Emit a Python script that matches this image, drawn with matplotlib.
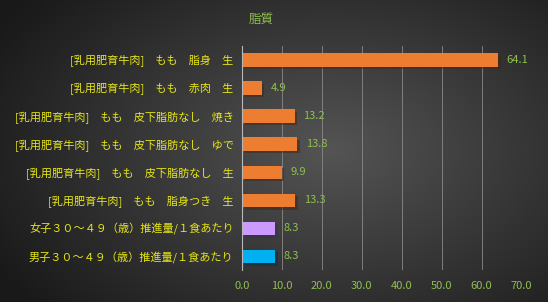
import numpy as np
import matplotlib
matplotlib.use("Agg")
import matplotlib.pyplot as plt
import matplotlib.patheffects as pe

plt.rcParams['font.family'] = ['Noto Sans CJK JP', 'DejaVu Sans']

labels = [
    "[乳用肥育牛肉]　もも　脂身　生",
    "[乳用肥育牛肉]　もも　赤肉　生",
    "[乳用肥育牛肉]　もも　皮下脂肪なし　焼き",
    "[乳用肥育牛肉]　もも　皮下脂肪なし　ゆで",
    "[乳用肥育牛肉]　もも　皮下脂肪なし　生",
    "[乳用肥育牛肉]　もも　脂身つき　生",
    "女子３０～４９（歳）推進量/１食あたり",
    "男子３０～４９（歳）推進量/１食あたり",
]
values = [64.1, 4.9, 13.2, 13.8, 9.9, 13.3, 8.3, 8.3]
colors = ["#ed7d31"] * 6 + ["#cc99ff", "#00b0f0"]
title = "脂質"

ink_label = "#e6e619"
ink_green = "#8fc04f"

fig = plt.figure(figsize=(5.48, 3.02), dpi=100)

# radial dark background
bg = fig.add_axes([0, 0, 1, 1], zorder=-10)
yy, xx = np.mgrid[0:302, 0:548]
r = np.sqrt(((xx - 330) / 400) ** 2 + ((yy - 150) / 250) ** 2)
shade = np.clip(0.33 - 0.24 * r, 0.1, 0.4)
bg.imshow(np.dstack([shade] * 3), aspect="auto", extent=[0, 1, 0, 1])
bg.axis("off")

ax = fig.add_axes([0.4416, 0.105, 0.51, 0.743])
ax.patch.set_alpha(0)
y = np.arange(len(values))
bars = ax.barh(y, values, height=0.47, color=colors, zorder=3)
for b in bars:
    b.set_path_effects([pe.SimplePatchShadow(offset=(2, -2), alpha=0.5), pe.Normal()])
ax.set_ylim(len(values) - 0.5, -0.5)
ax.set_xlim(0, 70)
ax.set_xticks(np.arange(0, 71, 10))
ax.set_xticklabels([f"{v:.1f}" for v in np.arange(0, 71, 10)])
ax.set_yticks(y)
ax.set_yticklabels(labels)
ax.tick_params(axis="y", length=0, pad=6, labelsize=8, labelcolor=ink_label)
ax.tick_params(axis="x", length=0, pad=8, labelsize=8, labelcolor=ink_green)
ax.grid(axis="x", color="#8a8a8a", lw=0.6, zorder=0)
for s in ["top", "right", "bottom"]:
    ax.spines[s].set_visible(False)
ax.spines["left"].set_color("#b8b8b8")
ax.spines["left"].set_zorder(4)

for yi, v in zip(y, values):
    ax.text(v + 2.2, yi, f"{v:.1f}", va="center", ha="left", fontsize=8, color=ink_green)

fig.text(0.476, 0.935, title, ha="center", va="center", fontsize=9, color=ink_green)

fig.savefig("out.png", dpi=100)
